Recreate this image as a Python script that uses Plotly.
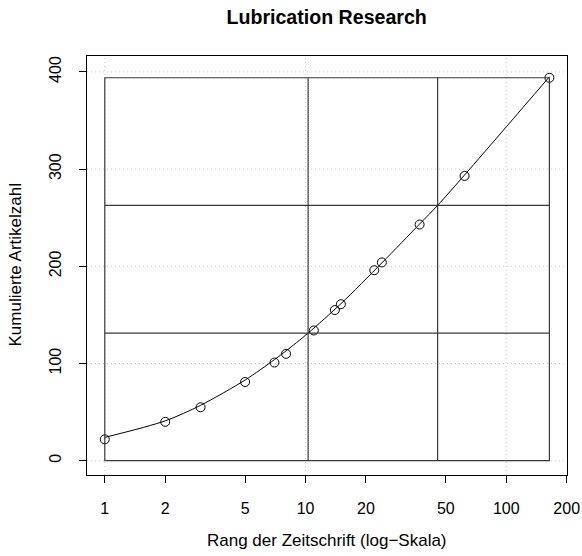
import plotly.graph_objects as go

# Bradford distribution: journals ranked by productivity, cumulative article counts
journal_rank = [1, 2, 3, 5, 7, 8, 11, 14, 15, 22, 24, 37, 62, 164]
cumulative_articles = [22, 40, 55, 81, 101, 110, 134, 155, 161, 196, 204, 243, 293, 394]

# Fitted Bradford curve, sampled along the rank axis
curve_rank = [1, 2, 3, 5, 7, 8, 10.3, 15, 24, 37, 45.5, 62, 100, 164]
curve_articles = [24, 41, 57, 83, 104, 113, 131.3, 161.5, 203.5, 243.5, 262.7, 294, 343.5, 395]

# Zone boundaries (ranks where the curve reaches 1/3 and 2/3 of all articles)
total_articles = 394
zone_ranks = [10.3, 45.5]
zone_levels = [total_articles / 3, 2 * total_articles / 3]

x_ticks = [1, 2, 5, 10, 20, 50, 100, 200]
y_ticks = [0, 100, 200, 300, 400]
x_grid = [1, 10, 100]

FONT = "Liberation Sans, Arial, Helvetica, sans-serif"
LINE = "#3a3a3a"
GRID = "#c8c8c8"
GRID_DASH = "1px,3px"

fig = go.Figure()

fig.add_trace(go.Scatter(
    x=curve_rank, y=curve_articles, mode="lines",
    line=dict(color="black", width=1, shape="spline", smoothing=0.8),
    hoverinfo="skip", showlegend=False,
))
fig.add_trace(go.Scatter(
    x=journal_rank, y=cumulative_articles, mode="markers",
    marker=dict(symbol="circle-open", size=9, color="black", line=dict(width=1, color="black")),
    showlegend=False,
))

shapes = []
# dotted decade grid on the log axis
for gx in x_grid:
    shapes.append(dict(type="line", xref="x", yref="paper", x0=gx, x1=gx, y0=0, y1=1,
                       line=dict(color=GRID, width=1, dash=GRID_DASH), layer="below"))
# dotted horizontal grid
for gy in y_ticks:
    shapes.append(dict(type="line", xref="paper", yref="y", x0=0, x1=1, y0=gy, y1=gy,
                       line=dict(color=GRID, width=1, dash=GRID_DASH), layer="below"))
# zone frame
first_rank, last_rank = journal_rank[0], journal_rank[-1]
shapes.append(dict(type="rect", xref="x", yref="y", x0=first_rank, x1=last_rank,
                   y0=0, y1=total_articles, line=dict(color=LINE, width=1.2)))
for zr in zone_ranks:
    shapes.append(dict(type="line", xref="x", yref="y", x0=zr, x1=zr, y0=0, y1=total_articles,
                       line=dict(color=LINE, width=1.2)))
for zl in zone_levels:
    shapes.append(dict(type="line", xref="x", yref="y", x0=first_rank, x1=last_rank, y0=zl, y1=zl,
                       line=dict(color=LINE, width=1.2)))

fig.update_layout(
    width=582, height=556,
    margin=dict(l=87, r=15, t=56, b=81, autoexpand=False),
    paper_bgcolor="white", plot_bgcolor="white",
    font=dict(family=FONT, size=16, color="black"),
    title=dict(text="<b>Lubrication Research</b>", x=0.5613, xanchor="center",
               y=1 - 17 / 556, yref="container", yanchor="middle",
               font=dict(family=FONT, size=19.6, color="black")),
    shapes=shapes,
    annotations=[
        dict(text="Rang der Zeitschrift (log−Skala)", xref="paper", yref="paper",
             x=0.5, y=-0.157, xanchor="center", yanchor="middle", showarrow=False,
             font=dict(family=FONT, size=17)),
        dict(text="Kumulierte Artikelzahl", xref="paper", yref="paper",
             x=-0.150, y=0.5, xanchor="center", yanchor="middle", textangle=-90,
             showarrow=False, font=dict(family=FONT, size=17)),
    ],
)

fig.update_xaxes(
    type="log", range=[-0.0886, 2.3025], automargin=False,
    tickmode="array", tickvals=x_ticks, ticktext=[str(t) for t in x_ticks],
    ticks="outside", ticklen=7, tickcolor="black", tickwidth=1,
    ticklabelstandoff=12,
    showline=True, linecolor="black", linewidth=1, mirror=True,
    showgrid=False, zeroline=False,
    tickfont=dict(family=FONT, size=16),
)
fig.update_yaxes(
    range=[-14.7, 416.4], automargin=False,
    tickmode="array", tickvals=y_ticks, ticktext=[str(t) for t in y_ticks],
    tickangle=-90,
    ticks="outside", ticklen=7, tickcolor="black", tickwidth=1,
    ticklabelstandoff=12,
    showline=True, linecolor="black", linewidth=1, mirror=True,
    showgrid=False, zeroline=False,
    tickfont=dict(family=FONT, size=16),
)

fig.write_html("out.html")
